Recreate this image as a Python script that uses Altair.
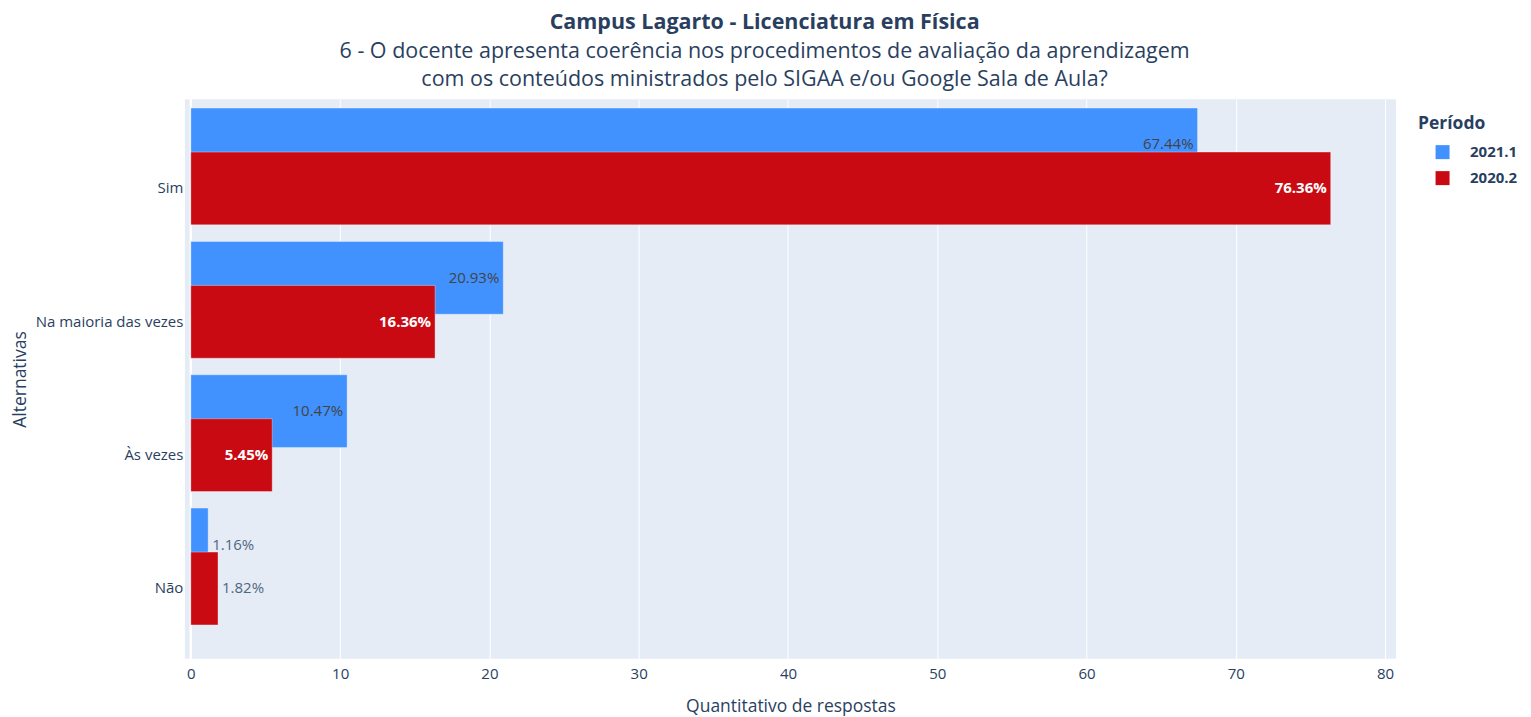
import altair as alt
import pandas as pd

categories = ["Sim", "Na maioria das vezes", "Às vezes", "Não"]
periods = ["2021.1", "2020.2"]
values_2021_1 = [67.44, 20.93, 10.47, 1.16]
values_2020_2 = [76.36, 16.36, 5.45, 1.82]
colors = ["#4192FF", "#C90A12"]
x_ticks = [0, 10, 20, 30, 40, 50, 60, 70, 80]

rows = []
for c, v in zip(categories, values_2021_1):
    rows.append({"cat": c, "period": "2021.1", "value": v, "label": f"{v:.2f}%"})
for c, v in zip(categories, values_2020_2):
    rows.append({"cat": c, "period": "2020.2", "value": v, "label": f"{v:.2f}%"})
df = pd.DataFrame(rows)

W, H = 1212, 560
RED_OFF = 9.5
BLUE_OFF = 9.5 - 44
FONT = "Open Sans"
TXT = "#2a3f5f"

y = alt.Y(
    "cat:N",
    sort=categories,
    scale=alt.Scale(paddingInner=0.454, paddingOuter=0.3255),
    axis=alt.Axis(
        title="Alternativas", labelOffset=RED_OFF, ticks=False, domain=False,
        labelPadding=2, labelFontSize=15, labelColor=TXT, labelFont=FONT,
        titleFont=FONT, titleFontSize=17.5, titleColor=TXT, titleFontWeight="normal",
        titlePadding=6, grid=False,
    ),
)
x = alt.X(
    "value:Q",
    scale=alt.Scale(domain=[-0.4, 80.74], nice=False, zero=False),
    axis=alt.Axis(
        values=x_ticks, title="Quantitativo de respostas", grid=True,
        gridColor="white", gridWidth=1, domain=False, ticks=False,
        labelPadding=8, labelFontSize=15, labelColor=TXT, labelFont=FONT,
        titleFont=FONT, titleFontSize=17.5, titleColor=TXT, titleFontWeight="normal",
        titlePadding=16,
    ),
)
color = alt.Color(
    "period:N",
    scale=alt.Scale(domain=periods, range=colors),
    legend=alt.Legend(
        title="Período", orient="none", legendX=1234, legendY=16,
        titleFont=FONT, titleFontSize=17.5, titleFontWeight="bold", titleColor=TXT,
        labelFont=FONT, labelFontSize=15, labelFontWeight="bold", labelColor=TXT,
        symbolType="square", symbolSize=196, symbolStrokeWidth=0,
        symbolOffset=17, labelOffset=20, rowPadding=10, titlePadding=12,
    ),
)

base = alt.Chart(df)

zero_rule = base.transform_filter("datum.period == '2021.1'").mark_rule(
    color="white", strokeWidth=2
).encode(x=alt.datum(0))

blue = base.transform_filter("datum.period == '2021.1'").mark_bar(
    yOffset=BLUE_OFF, stroke="white", strokeOpacity=0.35, strokeWidth=1
).encode(x=x, x2=alt.datum(0), y=y, color=color)

red = base.transform_filter("datum.period == '2020.2'").mark_bar(
    yOffset=RED_OFF, stroke="white", strokeOpacity=0.35, strokeWidth=1
).encode(x=x, x2=alt.datum(0), y=y, color=color)

blue_in = base.transform_filter("datum.period == '2021.1' && datum.value >= 3").mark_text(
    yOffset=BLUE_OFF, align="right", dx=-4, baseline="middle",
    font=FONT, fontSize=15, color="#444444"
).encode(x="value:Q", y=alt.Y("cat:N", sort=categories), text="label:N")

red_in = base.transform_filter("datum.period == '2020.2' && datum.value >= 3").mark_text(
    yOffset=RED_OFF, align="right", dx=-4, baseline="middle",
    font=FONT, fontSize=15, fontWeight="bold", color="white"
).encode(x="value:Q", y=alt.Y("cat:N", sort=categories), text="label:N")

blue_out = base.transform_filter("datum.period == '2021.1' && datum.value < 3").mark_text(
    yOffset=BLUE_OFF, align="left", dx=4, baseline="middle",
    font=FONT, fontSize=15, color="#506784"
).encode(x="value:Q", y=alt.Y("cat:N", sort=categories), text="label:N")

red_out = base.transform_filter("datum.period == '2020.2' && datum.value < 3").mark_text(
    yOffset=RED_OFF, align="left", dx=4, baseline="middle",
    font=FONT, fontSize=15, color="#506784"
).encode(x="value:Q", y=alt.Y("cat:N", sort=categories), text="label:N")

chart = alt.layer(zero_rule, blue, red, blue_in, red_in, blue_out, red_out).properties(
    width=W,
    height=H,
    background="white",
    padding={"left": 3, "top": 4, "right": 5, "bottom": 0},
    title=alt.TitleParams(
        text="Campus Lagarto - Licenciatura em Física",
        subtitle=[
            "6 - O docente apresenta coerência nos procedimentos de avaliação da aprendizagem",
            "com os conteúdos ministrados pelo SIGAA e/ou Google Sala de Aula?",
        ],
        font=FONT, fontSize=21.5, fontWeight="bold", color=TXT,
        subtitleFont=FONT, subtitleFontSize=21.5, subtitleColor=TXT,
        subtitleLineHeight=28, subtitlePadding=7,
        anchor="middle", frame="bounds", offset=8,
    ),
).configure_view(fill="#E5ECF6", stroke=None)

chart.save("out.html", embed_options={"renderer": "svg", "actions": False})
